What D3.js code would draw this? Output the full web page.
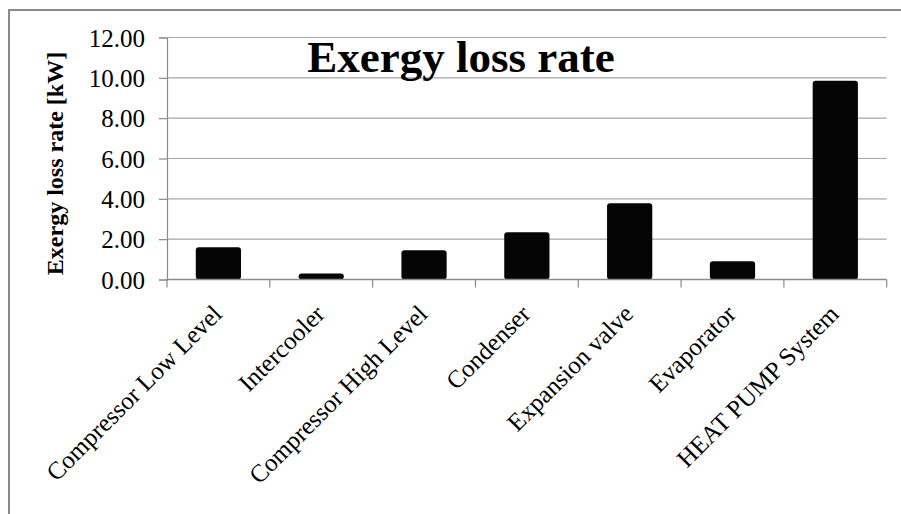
<!DOCTYPE html>
<html>
<head>
<meta charset="utf-8">
<script src="https://cdn.jsdelivr.net/npm/d3@7"></script>
<style>
  html, body { margin: 0; padding: 0; background: #fff; }
  svg { display: block; }
  svg text { font-family: "Liberation Serif", "Times New Roman", serif; fill: #000; }
</style>
</head>
<body>
<svg id="chart" width="901" height="514"></svg>
<script>
// Exergy loss rate per component of the two-stage heat pump [kW]
const categories = [
  "Compressor Low Level",
  "Intercooler",
  "Compressor High Level",
  "Condenser",
  "Expansion valve",
  "Evaporator",
  "HEAT PUMP System"
];
const exergyLoss = [1.60, 0.30, 1.45, 2.34, 3.78, 0.90, 9.86];
const yTicks = [0, 2, 4, 6, 8, 10, 12];

const SERIF = "'Liberation Serif', 'Times New Roman', serif";
const svg = d3.select("#chart");
const W = 901, H = 514;
const plot = { left: 167, right: 886.7, top: 37.5, bottom: 279.5 };

// outer chart frame (top and left edges only are visible)
svg.append("path")
  .attr("d", `M9,${H} L9,10 L${W},10`)
  .attr("fill", "none")
  .attr("stroke", "#8a8a8a")
  .attr("stroke-width", 2);

const x = d3.scaleBand()
  .domain(categories)
  .range([plot.left, plot.right])
  .paddingInner(0.56)
  .paddingOuter(0.28);

const y = d3.scaleLinear()
  .domain([0, 12])
  .range([plot.bottom, plot.top]);

// horizontal gridlines
svg.append("g")
  .selectAll("line")
  .data(yTicks.filter(d => d > 0))
  .join("line")
  .attr("x1", plot.left).attr("x2", plot.right)
  .attr("y1", d => y(d)).attr("y2", d => y(d))
  .attr("stroke", "#a6a6a6")
  .attr("stroke-width", 1.2);

// bars
svg.append("g")
  .selectAll("rect")
  .data(categories)
  .join("rect")
  .attr("x", d => x(d))
  .attr("width", x.bandwidth())
  .attr("y", (d, i) => y(exergyLoss[i]))
  .attr("height", (d, i) => y(0) - y(exergyLoss[i]))
  .attr("rx", 3)
  .attr("fill", "#050505");

// y axis
const yAxis = svg.append("g")
  .attr("transform", `translate(${plot.left},0)`)
  .call(d3.axisLeft(y).tickValues(yTicks).tickFormat(d3.format(".2f")).tickSize(8).tickPadding(14));
yAxis.attr("font-family", null).attr("font-size", null);
yAxis.select(".domain").attr("stroke", "#8a8a8a").attr("stroke-width", 1.2);
yAxis.selectAll(".tick line").attr("stroke", "#8a8a8a").attr("stroke-width", 1.2);
yAxis.selectAll(".tick text")
  .style("font-family", SERIF)
  .style("font-size", "25px")
  .attr("dy", "0.34em")
  .attr("fill", "#000");

// x axis: ticks on category boundaries
const xAxisG = svg.append("g");
xAxisG.append("line")
  .attr("x1", plot.left).attr("x2", plot.right)
  .attr("y1", y(0)).attr("y2", y(0))
  .attr("stroke", "#8a8a8a").attr("stroke-width", 1.4);
const step = x.step();
const boundaries = d3.range(categories.length + 1).map(i => plot.left + i * step);
xAxisG.selectAll("line.tk")
  .data(boundaries)
  .join("line")
  .attr("class", "tk")
  .attr("x1", d => d).attr("x2", d => d)
  .attr("y1", y(0)).attr("y2", y(0) + 8)
  .attr("stroke", "#8a8a8a").attr("stroke-width", 1.2);

// rotated category labels
svg.append("g")
  .selectAll("text")
  .data(categories)
  .join("text")
  .attr("transform", d => `translate(${x(d) + x.bandwidth() / 2 + 5},${y(0) + 36}) rotate(-45)`)
  .attr("text-anchor", "end")
  .style("font-family", SERIF)
  .style("font-size", "25px")
  .text(d => d);

// y axis title
svg.append("text")
  .attr("transform", `translate(63,${(plot.top + plot.bottom) / 2 + 5}) rotate(-90)`)
  .attr("text-anchor", "middle")
  .style("font-family", SERIF)
  .style("font-size", "24px")
  .style("font-weight", "bold")
  .text("Exergy loss rate [kW]");

// chart title
svg.append("text")
  .attr("x", 461)
  .attr("y", 71.5)
  .attr("text-anchor", "middle")
  .style("font-family", SERIF)
  .style("font-size", "45px")
  .style("font-weight", "bold")
  .text("Exergy loss rate");
</script>
</body>
</html>
